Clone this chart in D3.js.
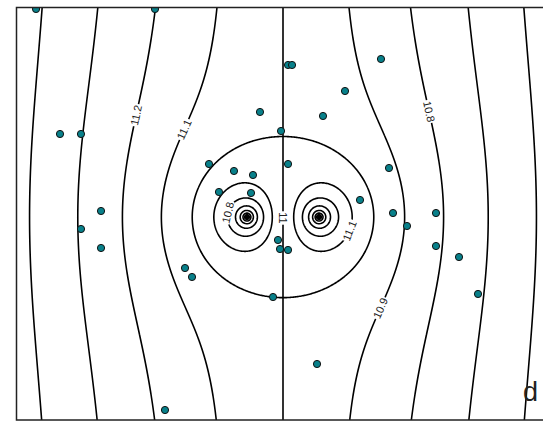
<!DOCTYPE html>
<html>
<head>
<meta charset="utf-8">
<script src="https://cdn.jsdelivr.net/npm/d3@7"></script>
<style>
  body { margin: 0; background: #fff; }
  svg { display: block; font-family: "Liberation Sans", Arial, sans-serif; }
</style>
</head>
<body>
<svg id="chart" width="543" height="422"></svg>
<script>
// survey stations (map units)
const ptX = [3.75, 26.03, 50.94, 51.69, 68.35, 61.61, 45.69, 57.49, 49.63, 8.24,
             12.17, 50.94, 36.14, 40.82, 44.38, 69.85, 38.01, 44.01, 64.42, 15.92,
             12.17, 15.92, 70.60, 78.65, 73.22, 49.06, 49.44, 50.94, 78.65, 82.96,
             31.65, 32.96, 48.13, 86.52, 56.37, 27.90];
const ptY = [76.97, 76.97, 66.48, 66.48, 67.60, 61.61, 57.68, 56.93, 54.12, 53.56,
             53.56, 47.94, 47.94, 46.63, 45.88, 47.19, 42.70, 42.51, 41.20, 39.14,
             35.77, 32.21, 38.76, 38.76, 36.33, 33.71, 32.02, 31.84, 32.58, 30.52,
             28.46, 26.78, 23.03, 23.60, 10.49, 1.87];

// contour levels
const levels = d3.range(100, 121).map(d => d / 10);

// fitted surface: regional trend plus a pair of opposite line sources
const trendBase = 11, trendCentre = 50, trendSlope = 0.0096;
const srcX = [43.26, 56.74];
const srcY = [38.0, 38.0];
const srcSign = [1, -1];
const srcStrength = 0.1945;

// contour labels: level and rough spot
const labLevel = [11.2, 11.1, 10.8, 10.9, 10.8, 11, 11.1];
const labX = [22.28, 31.65, 76.97, 67.79, 40.07, 50.0, 62.17];
const labY = [57.12, 54.31, 57.68, 21.16, 38.76, 37.83, 35.58];

const svg = d3.select("#chart");

let x = d3.scaleLinear().domain([0, 100]).range([16, 550]);
let y = d3.scaleLinear().domain([0, 77.34]).range([420, 7]);

function surface(xv, yv) {
  let v = trendBase - trendSlope * (xv - trendCentre);
  for (let i = 0; i < srcX.length; i++) {
    let r = Math.hypot(xv - srcX[i], yv - srcY[i]);
    v += srcSign[i] * srcStrength * Math.log(r);
  }
  return v;
}

// surface sampled on a one pixel grid, a bit larger than the frame
const gx0 = 14, gy0 = 5, nx = 538, ny = 417;
let grid = new Float64Array(nx * ny);
for (let j = 0; j < ny; j++) {
  for (let i = 0; i < nx; i++) {
    grid[j * nx + i] = surface(x.invert(gx0 + i + 0.5), y.invert(gy0 + j + 0.5));
  }
}

let contours = d3.contours().size([nx, ny]).thresholds(levels)(grid);

let gridPath = d3.geoPath(d3.geoTransform({
  point: function(px, py) { this.stream.point(gx0 + px, gy0 + py); }
}));

svg.append("defs").append("clipPath")
    .attr("id", "plotClip")
  .append("rect")
    .attr("x", 16).attr("y", 7)
    .attr("width", 534).attr("height", 413);

let plot = svg.append("g").attr("clip-path", "url(#plotClip)");

plot.append("g")
    .attr("class", "contours")
  .selectAll("path")
  .data(contours)
  .enter().append("path")
    .attr("d", gridPath)
    .style("fill", "none")
    .style("stroke", "#000")
    .style("stroke-width", 1.6);

// labels sit on the line, with the line broken under them
function surfacePx(px, py) { return surface(x.invert(px), y.invert(py)); }

let labels = plot.append("g").attr("class", "labels");
labLevel.forEach(function(level, k) {
  let px = x(labX[k]), py = y(labY[k]);
  let fx = 0, fy = 0;
  for (let it = 0; it < 30; it++) {
    let v = surfacePx(px, py) - level;
    fx = (surfacePx(px + 0.25, py) - surfacePx(px - 0.25, py)) / 0.5;
    fy = (surfacePx(px, py + 0.25) - surfacePx(px, py - 0.25)) / 0.5;
    let g2 = fx * fx + fy * fy;
    px -= v * fx / g2;
    py -= v * fy / g2;
  }
  let angle = Math.atan2(fx, -fy) * 180 / Math.PI;
  if (angle > 90) angle -= 180;
  if (angle <= -90) angle += 180;

  let lab = labels.append("g")
      .attr("transform", "translate(" + px + "," + py + ") rotate(" + angle + ")");
  let box = lab.append("rect").style("fill", "#fff");
  let txt = lab.append("text")
      .attr("text-anchor", "middle")
      .attr("dy", "0.36em")
      .style("font-size", "11px")
      .style("fill", "#222")
      .text(String(level));
  let w = txt.node().getComputedTextLength() + 2;
  box.attr("x", -w / 2).attr("y", -4).attr("width", w).attr("height", 8);
});

plot.append("g")
    .attr("class", "stations")
  .selectAll("circle")
  .data(ptX)
  .enter().append("circle")
    .attr("cx", function(d) { return x(d); })
    .attr("cy", function(d, i) { return y(ptY[i]); })
    .attr("r", 3.6)
    .style("fill", "#08808a")
    .style("stroke", "#111")
    .style("stroke-width", 1);

// frame
svg.append("rect")
    .attr("x", 16.5).attr("y", 7.5)
    .attr("width", 533.5).attr("height", 412.5)
    .style("fill", "none")
    .style("stroke", "#222")
    .style("stroke-width", 1.5);

svg.append("text")
    .attr("x", 523).attr("y", 401)
    .style("font-size", "27px")
    .style("fill", "#222")
    .text("d");
</script>
</body>
</html>
